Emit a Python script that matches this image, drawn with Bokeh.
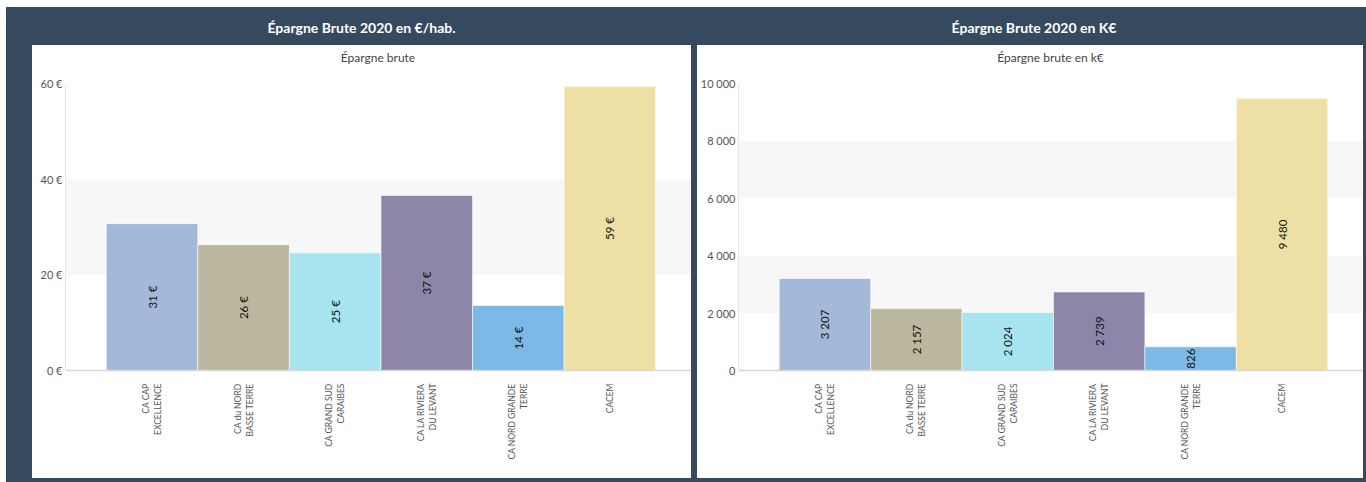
import math
from bokeh.plotting import figure
from bokeh.models import Range1d, FixedTicker, Title, Div
from bokeh.layouts import row, column
from bokeh.core.properties import value
from bokeh.embed import file_html
from bokeh.resources import INLINE

# ---------------- data ----------------
categories = ["CA CAP\nEXCELLENCE", "CA du NORD\nBASSE TERRE", "CA GRAND SUD\nCARAIBES",
              "CA LA RIVIERA\nDU LEVANT", "CA NORD GRANDE\nTERRE", "CACEM"]
eur_per_hab = [30.7, 26.3, 24.6, 36.6, 13.6, 59.4]
keur = [3207, 2157, 2024, 2739, 826, 9480]
bar_colors = ["#a4b9d9", "#bcb89e", "#a8e3f0", "#8e86a8", "#7db8e6", "#eee0a4"]
ticks_left = [0, 20, 40, 60]
ticks_right = [0, 2000, 4000, 6000, 8000, 10000]

DARK = "#354a5f"
FONT = "Lato"


def fmt_thousands(v):
    return f"{int(round(v)):,}".replace(",", " ")


def make_fig(vals, ticks, tick_labels, bar_labels, subtitle, width, min_left):
    idx = list(range(len(vals)))
    p = figure(width=width, height=433, output_backend="svg", toolbar_location=None,
               x_range=Range1d(-0.945, 5.88), y_range=Range1d(0, ticks[-1]),
               min_border_left=min_left, min_border_right=1, min_border_top=38,
               min_border_bottom=108, background_fill_color="white",
               border_fill_color="white", outline_line_color=None, margin=0,
               styles={"background-color": "white"})
    # spacer between subtitle and plot area (added first: closest to the frame)
    spacer = Title(text=" ", text_font=FONT, text_font_size="12px", standoff=2)
    p.add_layout(spacer, "above")
    t = Title(text=subtitle, align="center", vertical_align="bottom", text_font=FONT,
              text_font_size="12px", text_font_style="normal", text_color="#444444",
              standoff=0)
    p.add_layout(t, "above")

    p.vbar(x=idx, top=vals, width=1, fill_color=bar_colors, line_color="white",
           line_width=0.6)
    p.text(x=idx, y=[v / 2 for v in vals], text=bar_labels, angle=math.pi / 2,
           text_align="center", text_baseline="middle", text_font=value(FONT),
           text_font_size="11.5px", text_color="#111111")

    p.xgrid.grid_line_color = None
    p.ygrid.grid_line_color = None
    p.ygrid.band_fill_color = "#f7f7f7"
    p.ygrid.band_fill_alpha = 1.0

    p.xaxis.ticker = FixedTicker(ticks=idx)
    p.xaxis.major_label_overrides = {i: c for i, c in enumerate(categories)}
    p.xaxis.major_label_orientation = math.pi / 2
    p.xaxis.major_label_text_align = "right"
    p.xaxis.major_label_text_font = FONT
    p.xaxis.major_label_text_font_size = "8.5px"
    p.xaxis.major_label_text_color = "#555555"
    p.xaxis.major_label_standoff = 7
    p.xaxis.axis_line_color = "#d6d6d6"
    p.xaxis.axis_line_width = 1.5
    p.xaxis.major_tick_line_color = None
    p.xaxis.minor_tick_line_color = None

    p.yaxis.ticker = FixedTicker(ticks=ticks)
    p.yaxis.major_label_overrides = {tk: lb for tk, lb in zip(ticks, tick_labels)}
    p.yaxis.major_label_text_font = FONT
    p.yaxis.major_label_text_font_size = "11px"
    p.yaxis.major_label_text_color = "#555555"
    p.yaxis.major_label_standoff = 3
    p.yaxis.axis_line_color = "#e6e6e6"
    p.yaxis.major_tick_line_color = None
    p.yaxis.minor_tick_line_color = None
    p.yaxis.major_tick_out = 0
    p.yaxis.major_tick_in = 0
    return p


p1 = make_fig(eur_per_hab, ticks_left, [f"{t} €" for t in ticks_left],
              [f"{round(v)} €" for v in eur_per_hab], "Épargne brute", 659, 33)
p2 = make_fig(keur, ticks_right, [fmt_thousands(t) for t in ticks_right],
              [fmt_thousands(v) for v in keur], "Épargne brute en k€", 666, 40)

head_style = {"color": "white", "font-family": FONT, "font-weight": "bold",
              "font-size": "14px", "text-align": "center", "line-height": "42px"}
h1 = Div(text="Épargne Brute 2020 en €/hab.", width=659, height=38, margin=0,
         styles=head_style)
h2 = Div(text="Épargne Brute 2020 en K€", width=666, height=38, margin=0,
         styles=dict(head_style, **{"padding-left": "8px"}))

left = column(h1, p1, spacing=0, margin=(0, 0, 4, 26))
right = column(h2, p2, spacing=0, margin=(0, 3, 4, 6))
root = row(left, right, spacing=0, margin=(7, 0, 0, 6),
           styles={"background-color": DARK})

open("out.html", "w").write(file_html(root, INLINE))
